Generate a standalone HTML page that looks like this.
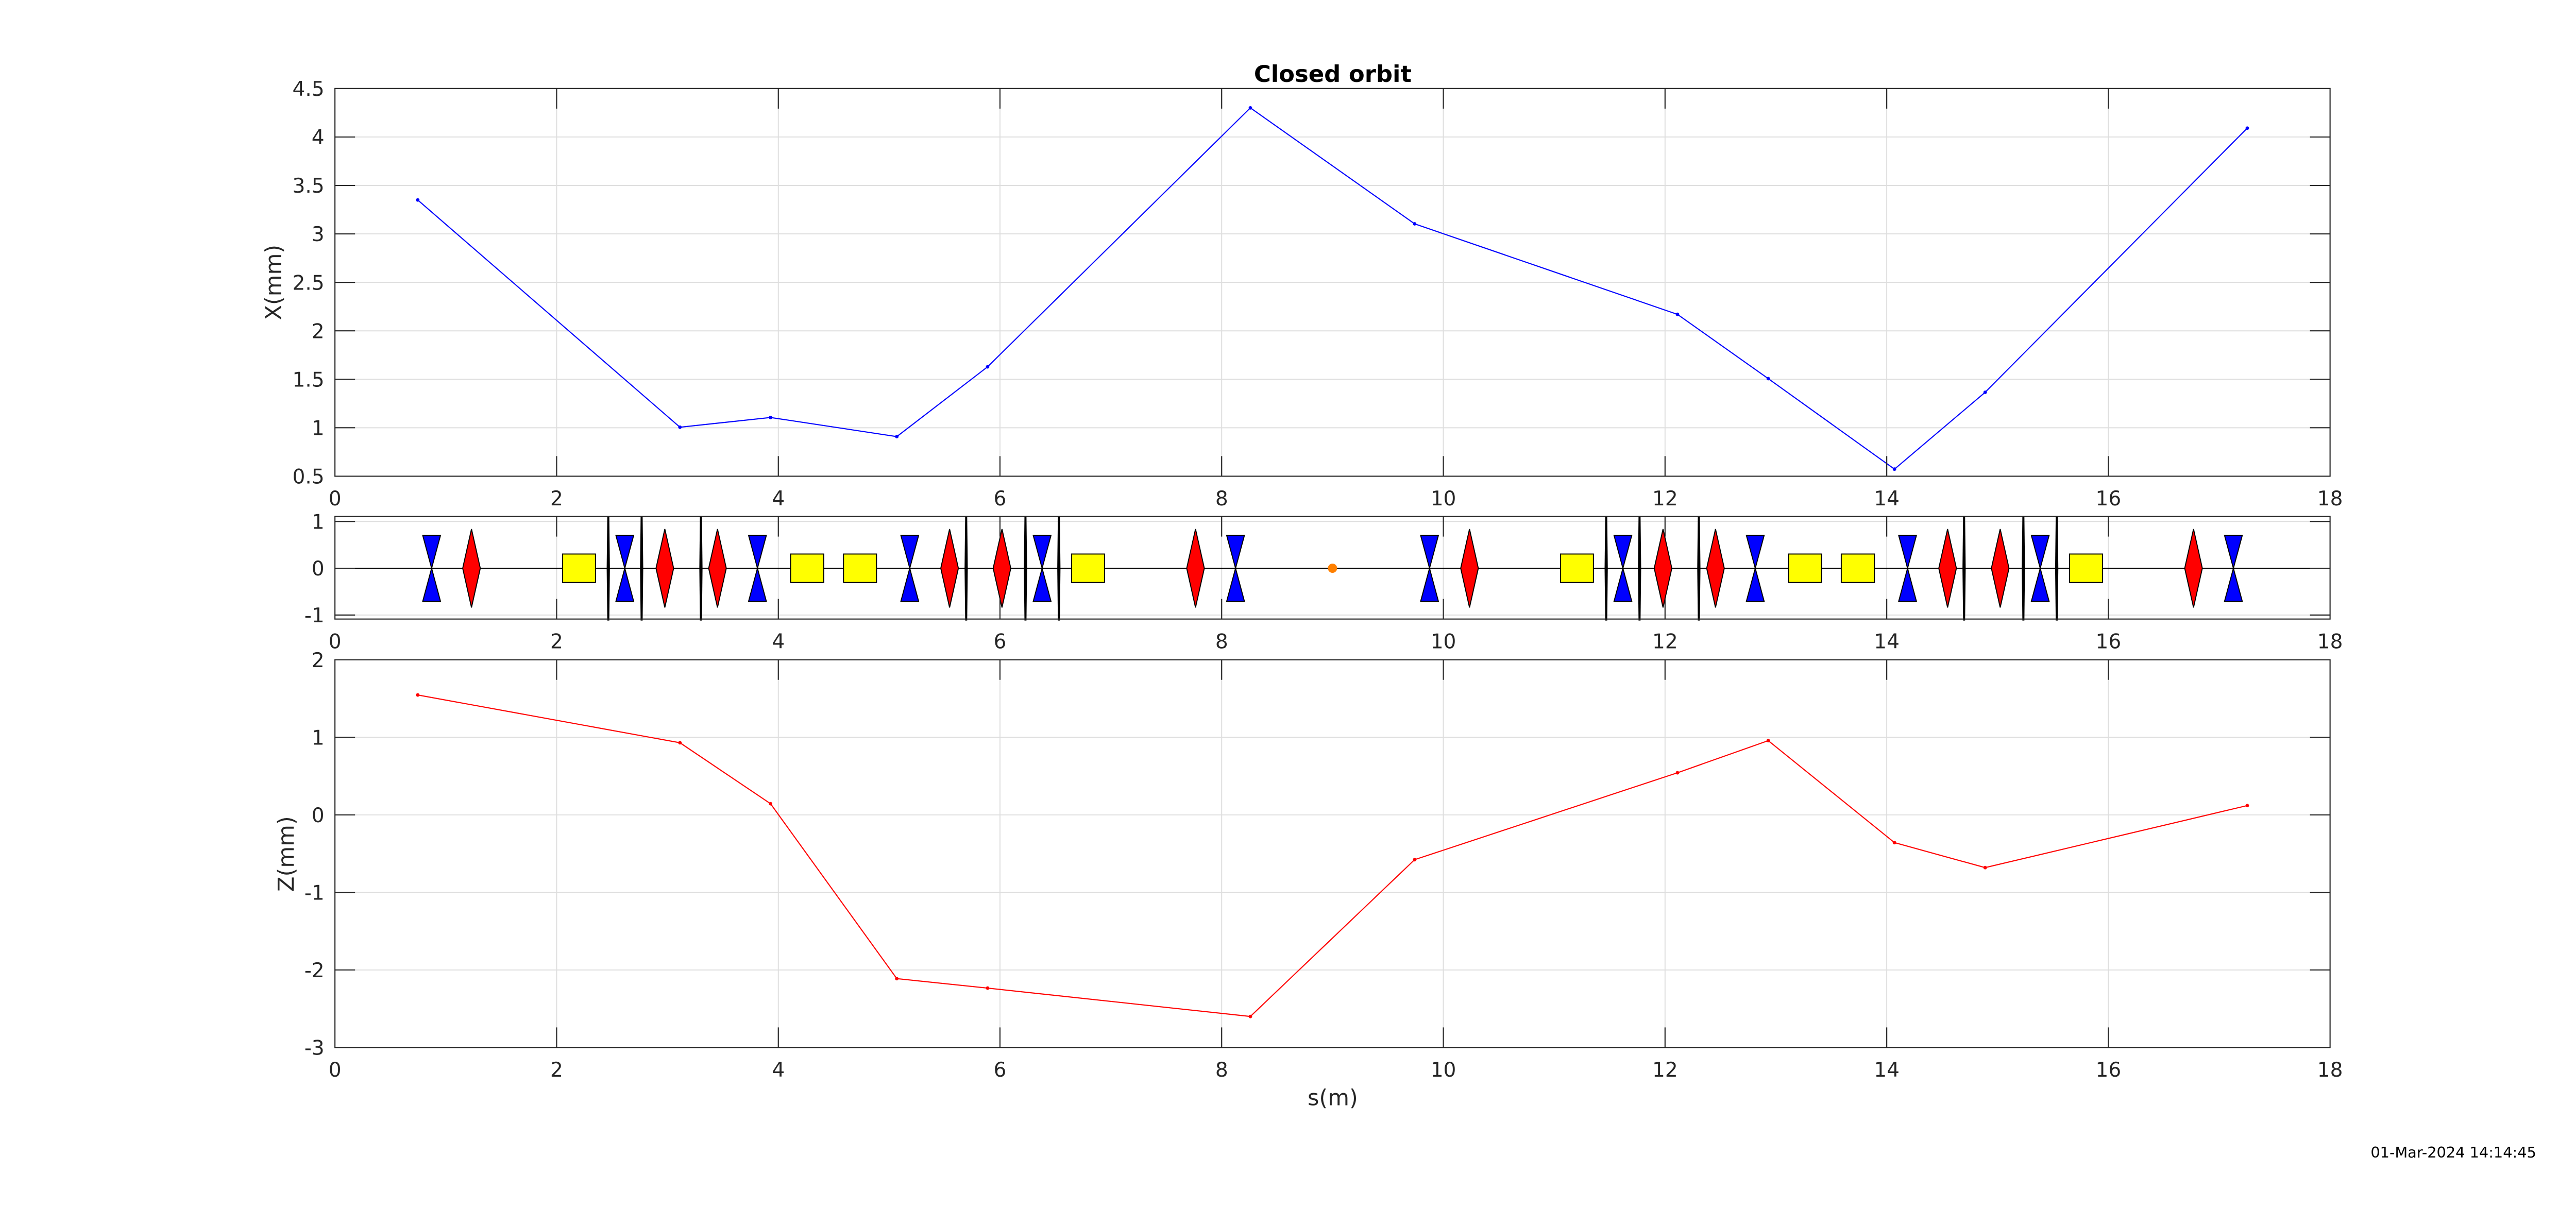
<!DOCTYPE html>
<html><head><meta charset="utf-8"><style>
html,body{margin:0;padding:0;background:#fff;overflow:hidden;}
svg{display:block;width:100vw;height:45.7438vw;}
text{font-family:"DejaVu Sans","Liberation Sans",sans-serif;}
</style></head><body>
<svg xmlns="http://www.w3.org/2000/svg" viewBox="0 0 5122 2343" preserveAspectRatio="xMinYMin meet">
<rect width="5122" height="2343" fill="#fff"/>

<!-- ============ TOP AXES ============ -->
<g stroke="#dedede" stroke-width="2" fill="none">
<path d="M1106.8 176V947M1547.6 176V947M1988.3 176V947M2429.1 176V947M2869.9 176V947M3310.7 176V947M3751.5 176V947M4192.2 176V947"/>
<path d="M666 850.6H4633M666 754.3H4633M666 657.9H4633M666 561.5H4633M666 465.1H4633M666 368.8H4633M666 272.4H4633"/>
</g>
<polyline fill="none" stroke="#0000ff" stroke-width="2.2" stroke-linejoin="round" points="830.6,397.7 1352.0,849.5 1532.1,830.2 1783.2,868.2 1963.7,729.4 2486.2,214.5 2812.8,445.1 3335.4,625.1 3515.9,752.9 3766.9,932.9 3947.2,780.1 4468.4,254.8"/>
<g fill="#0000ff">
<circle cx="830.6" cy="397.7" r="3.5"/><circle cx="1352.0" cy="849.5" r="3.5"/><circle cx="1532.1" cy="830.2" r="3.5"/><circle cx="1783.2" cy="868.2" r="3.5"/><circle cx="1963.7" cy="729.4" r="3.5"/><circle cx="2486.2" cy="214.5" r="3.5"/><circle cx="2812.8" cy="445.1" r="3.5"/><circle cx="3335.4" cy="625.1" r="3.5"/><circle cx="3515.9" cy="752.9" r="3.5"/><circle cx="3766.9" cy="932.9" r="3.5"/><circle cx="3947.2" cy="780.1" r="3.5"/><circle cx="4468.4" cy="254.8" r="3.5"/>
</g>
<g stroke="#262626" stroke-width="2.2" fill="none">
<rect x="666" y="176" width="3967" height="771"/>
<path d="M1106.8 947v-40M1547.6 947v-40M1988.3 947v-40M2429.1 947v-40M2869.9 947v-40M3310.7 947v-40M3751.5 947v-40M4192.2 947v-40"/>
<path d="M1106.8 176v40M1547.6 176v40M1988.3 176v40M2429.1 176v40M2869.9 176v40M3310.7 176v40M3751.5 176v40M4192.2 176v40"/>
<path d="M666 850.6h40M666 754.3h40M666 657.9h40M666 561.5h40M666 465.1h40M666 368.8h40M666 272.4h40"/>
<path d="M4633 850.6h-40M4633 754.3h-40M4633 657.9h-40M4633 561.5h-40M4633 465.1h-40M4633 368.8h-40M4633 272.4h-40"/>
</g>
<g fill="#262626" font-size="40" text-anchor="end">
<text x="645" y="961.5">0.5</text><text x="645" y="865.1">1</text><text x="645" y="768.8">1.5</text><text x="645" y="672.4">2</text><text x="645" y="576">2.5</text><text x="645" y="479.6">3</text><text x="645" y="383.3">3.5</text><text x="645" y="286.9">4</text><text x="645" y="190.5">4.5</text>
</g>
<g fill="#262626" font-size="40" text-anchor="middle">
<text x="666" y="1005">0</text><text x="1106.8" y="1005">2</text><text x="1547.6" y="1005">4</text><text x="1988.3" y="1005">6</text><text x="2429.1" y="1005">8</text><text x="2869.9" y="1005">10</text><text x="3310.7" y="1005">12</text><text x="3751.5" y="1005">14</text><text x="4192.2" y="1005">16</text><text x="4633" y="1005">18</text>
</g>
<text x="2650" y="163" font-size="46" font-weight="bold" text-anchor="middle" fill="#000">Closed orbit</text>
<text transform="translate(559,561.5) rotate(-90)" font-size="44" text-anchor="middle" fill="#262626">X(mm)</text>

<!-- ============ MIDDLE AXES ============ -->
<g stroke="#dedede" stroke-width="2" fill="none">
<path d="M1106.8 1027V1231M1547.6 1027V1231M1988.3 1027V1231M2429.1 1027V1231M2869.9 1027V1231M3310.7 1027V1231M3751.5 1027V1231M4192.2 1027V1231"/>
<path d="M666 1037H4633M666 1223H4633"/>
</g>
<path d="M666 1130H4633" stroke="#000" stroke-width="2.2"/>
<g fill="#0000ff" stroke="#000" stroke-width="2" stroke-linejoin="miter">
<polygon points="840.5,1064.5 875.9,1064.5 858.2,1130 875.9,1196 840.5,1196 858.2,1130"/>
<polygon points="1224.6,1064.5 1260,1064.5 1242.3,1130 1260,1196 1224.6,1196 1242.3,1130"/>
<polygon points="1488.4,1064.5 1523.8,1064.5 1506.1,1130 1523.8,1196 1488.4,1196 1506.1,1130"/>
<polygon points="1791.2,1064.5 1826.6,1064.5 1808.9,1130 1826.6,1196 1791.2,1196 1808.9,1130"/>
<polygon points="2054.4,1064.5 2089.8,1064.5 2072.1,1130 2089.8,1196 2054.4,1196 2072.1,1130"/>
<polygon points="2439,1064.5 2474.4,1064.5 2456.7,1130 2474.4,1196 2439,1196 2456.7,1130"/>
<polygon points="2824.7,1064.5 2860.1,1064.5 2842.4,1130 2860.1,1196 2824.7,1196 2842.4,1130"/>
<polygon points="3209.2,1064.5 3244.6,1064.5 3226.9,1130 3244.6,1196 3209.2,1196 3226.9,1130"/>
<polygon points="3472.4,1064.5 3507.8,1064.5 3490.1,1130 3507.8,1196 3472.4,1196 3490.1,1130"/>
<polygon points="3775.2,1064.5 3810.6,1064.5 3792.9,1130 3810.6,1196 3775.2,1196 3792.9,1130"/>
<polygon points="4039,1064.5 4074.4,1064.5 4056.7,1130 4074.4,1196 4039,1196 4056.7,1130"/>
<polygon points="4423.1,1064.5 4458.5,1064.5 4440.8,1130 4458.5,1196 4423.1,1196 4440.8,1130"/>
</g>
<g fill="#ff0000" stroke="#000" stroke-width="2">
<polygon points="937.5,1052 955,1130 937.5,1208 920,1130"/>
<polygon points="1321.9,1052 1339.4,1130 1321.9,1208 1304.4,1130"/>
<polygon points="1426.6,1052 1444.1,1130 1426.6,1208 1409.1,1130"/>
<polygon points="1888.1,1052 1905.6,1130 1888.1,1208 1870.6,1130"/>
<polygon points="1992.3,1052 2009.8,1130 1992.3,1208 1974.8,1130"/>
<polygon points="2377.1,1052 2394.6,1130 2377.1,1208 2359.6,1130"/>
<polygon points="2921.9,1052 2939.4,1130 2921.9,1208 2904.4,1130"/>
<polygon points="3306.7,1052 3324.2,1130 3306.7,1208 3289.2,1130"/>
<polygon points="3411,1052 3428.5,1130 3411,1208 3393.5,1130"/>
<polygon points="3872.5,1052 3890,1130 3872.5,1208 3855,1130"/>
<polygon points="3977.1,1052 3994.6,1130 3977.1,1208 3959.6,1130"/>
<polygon points="4361.5,1052 4379,1130 4361.5,1208 4344,1130"/>
</g>
<g fill="#ffff00" stroke="#000" stroke-width="2">
<rect x="1118.5" y="1101.7" width="65.6" height="56.6"/>
<rect x="1572" y="1101.7" width="65.9" height="56.6"/>
<rect x="1677.2" y="1101.7" width="65.6" height="56.6"/>
<rect x="2130.7" y="1101.7" width="65.5" height="56.6"/>
<rect x="3102.8" y="1101.7" width="65.5" height="56.6"/>
<rect x="3556.2" y="1101.7" width="65.7" height="56.6"/>
<rect x="3661.1" y="1101.7" width="65.9" height="56.6"/>
<rect x="4114.9" y="1101.7" width="65.7" height="56.6"/>
</g>
<g fill="#000">
<polygon points="1207.5,1026 1211.5,1026 1212.7,1130 1211.5,1234 1207.5,1234 1206.3,1130"/>
<polygon points="1273.8,1026 1277.8,1026 1279,1130 1277.8,1234 1273.8,1234 1272.6,1130"/>
<polygon points="1391.7,1026 1395.7,1026 1396.9,1130 1395.7,1234 1391.7,1234 1390.5,1130"/>
<polygon points="1919.1,1026 1923.1,1026 1924.3,1130 1923.1,1234 1919.1,1234 1917.9,1130"/>
<polygon points="2037,1026 2041,1026 2042.2,1130 2041,1234 2037,1234 2035.8,1130"/>
<polygon points="2103.4,1026 2107.4,1026 2108.6,1130 2107.4,1234 2103.4,1234 2102.2,1130"/>
<polygon points="3191.7,1026 3195.7,1026 3196.9,1130 3195.7,1234 3191.7,1234 3190.5,1130"/>
<polygon points="3258,1026 3262,1026 3263.2,1130 3262,1234 3258,1234 3256.8,1130"/>
<polygon points="3375.9,1026 3379.9,1026 3381.1,1130 3379.9,1234 3375.9,1234 3374.7,1130"/>
<polygon points="3903.3,1026 3907.3,1026 3908.5,1130 3907.3,1234 3903.3,1234 3902.1,1130"/>
<polygon points="4021.2,1026 4025.2,1026 4026.4,1130 4025.2,1234 4021.2,1234 4020,1130"/>
<polygon points="4087.5,1026 4091.5,1026 4092.7,1130 4091.5,1234 4087.5,1234 4086.3,1130"/>
</g>
<ellipse cx="2649.5" cy="1130" rx="9.2" ry="9.2" fill="#ff8000"/>
<g stroke="#262626" stroke-width="2.2" fill="none">
<rect x="666" y="1027" width="3967" height="204"/>
<path d="M1106.8 1231v-40M1547.6 1231v-40M1988.3 1231v-40M2429.1 1231v-40M2869.9 1231v-40M3310.7 1231v-40M3751.5 1231v-40M4192.2 1231v-40"/>
<path d="M1106.8 1027v40M1547.6 1027v40M1988.3 1027v40M2429.1 1027v40M2869.9 1027v40M3310.7 1027v40M3751.5 1027v40M4192.2 1027v40"/>
<path d="M666 1037h40M666 1130h40M666 1223h40M4633 1037h-40M4633 1130h-40M4633 1223h-40"/>
</g>
<g fill="#262626" font-size="40" text-anchor="end">
<text x="645" y="1051.5">1</text><text x="645" y="1144.5">0</text><text x="645" y="1237.5">-1</text>
</g>
<g fill="#262626" font-size="40" text-anchor="middle">
<text x="666" y="1289">0</text><text x="1106.8" y="1289">2</text><text x="1547.6" y="1289">4</text><text x="1988.3" y="1289">6</text><text x="2429.1" y="1289">8</text><text x="2869.9" y="1289">10</text><text x="3310.7" y="1289">12</text><text x="3751.5" y="1289">14</text><text x="4192.2" y="1289">16</text><text x="4633" y="1289">18</text>
</g>

<!-- ============ BOTTOM AXES ============ -->
<g stroke="#dedede" stroke-width="2" fill="none">
<path d="M1106.8 1312V2083M1547.6 1312V2083M1988.3 1312V2083M2429.1 1312V2083M2869.9 1312V2083M3310.7 1312V2083M3751.5 1312V2083M4192.2 1312V2083"/>
<path d="M666 1466.2H4633M666 1620.4H4633M666 1774.6H4633M666 1928.8H4633"/>
</g>
<polyline fill="none" stroke="#ff0000" stroke-width="2.2" stroke-linejoin="round" points="830.6,1382.0 1352.0,1477.0 1532.1,1598.2 1783.2,1946.1 1963.7,1964.9 2486.2,2021.3 2812.8,1709.5 3335.4,1536.7 3515.9,1472.8 3766.9,1675.6 3947.2,1725.3 4468.4,1601.9"/>
<g fill="#ff0000">
<circle cx="830.6" cy="1382.0" r="3.5"/><circle cx="1352.0" cy="1477.0" r="3.5"/><circle cx="1532.1" cy="1598.2" r="3.5"/><circle cx="1783.2" cy="1946.1" r="3.5"/><circle cx="1963.7" cy="1964.9" r="3.5"/><circle cx="2486.2" cy="2021.3" r="3.5"/><circle cx="2812.8" cy="1709.5" r="3.5"/><circle cx="3335.4" cy="1536.7" r="3.5"/><circle cx="3515.9" cy="1472.8" r="3.5"/><circle cx="3766.9" cy="1675.6" r="3.5"/><circle cx="3947.2" cy="1725.3" r="3.5"/><circle cx="4468.4" cy="1601.9" r="3.5"/>
</g>
<g stroke="#262626" stroke-width="2.2" fill="none">
<rect x="666" y="1312" width="3967" height="771"/>
<path d="M1106.8 2083v-40M1547.6 2083v-40M1988.3 2083v-40M2429.1 2083v-40M2869.9 2083v-40M3310.7 2083v-40M3751.5 2083v-40M4192.2 2083v-40"/>
<path d="M1106.8 1312v40M1547.6 1312v40M1988.3 1312v40M2429.1 1312v40M2869.9 1312v40M3310.7 1312v40M3751.5 1312v40M4192.2 1312v40"/>
<path d="M666 1466.2h40M666 1620.4h40M666 1774.6h40M666 1928.8h40M4633 1466.2h-40M4633 1620.4h-40M4633 1774.6h-40M4633 1928.8h-40"/>
</g>
<g fill="#262626" font-size="40" text-anchor="end">
<text x="645" y="1326.5">2</text><text x="645" y="1480.7">1</text><text x="645" y="1634.9">0</text><text x="645" y="1789.1">-1</text><text x="645" y="1943.3">-2</text><text x="645" y="2097.5">-3</text>
</g>
<g fill="#262626" font-size="40" text-anchor="middle">
<text x="666" y="2141">0</text><text x="1106.8" y="2141">2</text><text x="1547.6" y="2141">4</text><text x="1988.3" y="2141">6</text><text x="2429.1" y="2141">8</text><text x="2869.9" y="2141">10</text><text x="3310.7" y="2141">12</text><text x="3751.5" y="2141">14</text><text x="4192.2" y="2141">16</text><text x="4633" y="2141">18</text>
</g>
<text transform="translate(584,1698) rotate(-90)" font-size="44" text-anchor="middle" fill="#262626">Z(mm)</text>
<text x="2650" y="2198" font-size="44" text-anchor="middle" fill="#262626">s(m)</text>

<text x="5043" y="2302" font-size="29.5" text-anchor="end" fill="#000">01-Mar-2024 14:14:45</text>
</svg>
</body></html>
